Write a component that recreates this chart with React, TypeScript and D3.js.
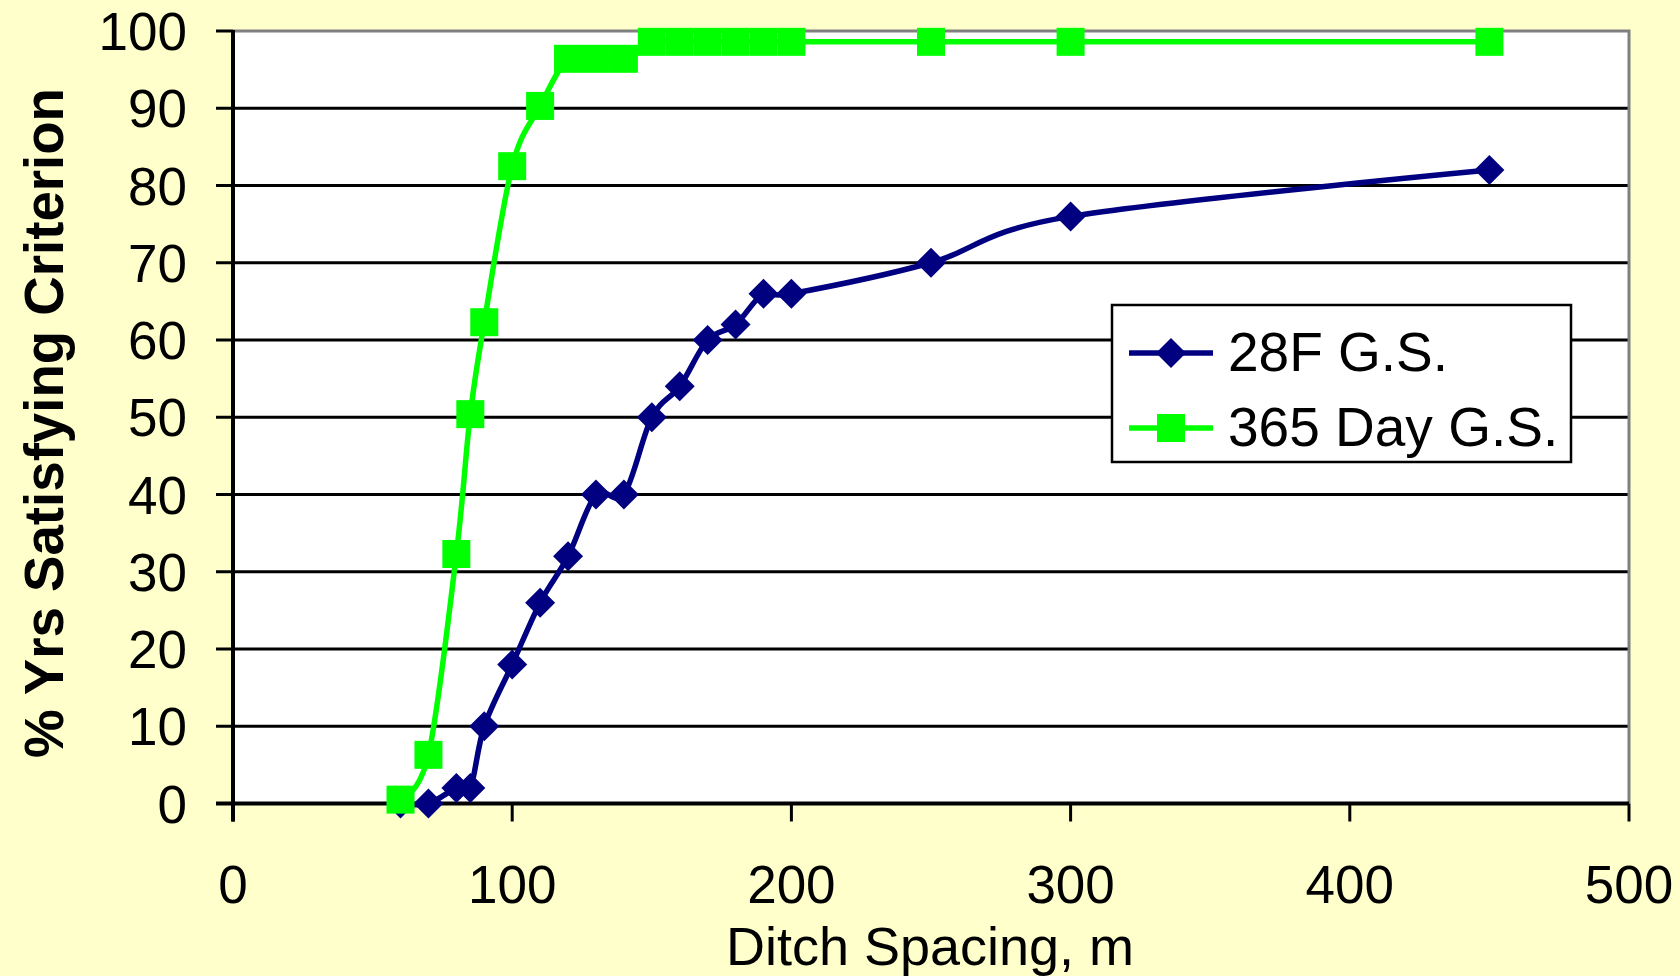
import * as d3 from "d3";
import { useEffect, useRef } from "react";

// ditch spacing (m) shared by both series
const spacing = [60, 70, 80, 85, 90, 100, 110, 120, 130, 140, 150, 160, 170, 180, 190, 200, 250, 300, 450];
// % of years satisfying criterion
const pct28F = [0, 0, 2, 2, 10, 18, 26, 32, 40, 40, 50, 54, 60, 62, 66, 66, 70, 76, 82];
const pct365 = [0.5, 6.3, 32.3, 50.4, 62.3, 82.5, 90.3, 96.4, 96.4, 96.4, 98.6, 98.6, 98.6, 98.6, 98.6, 98.6, 98.6, 98.6, 98.6];

const seriesNames = ["28F G.S.", "365 Day G.S."];
const xTicks = [0, 100, 200, 300, 400, 500];
const yTicks = [0, 10, 20, 30, 40, 50, 60, 70, 80, 90, 100];

export default function App() {
  const ref = useRef<SVGSVGElement | null>(null);
  const width = 1680;
  const height = 976;

  useEffect(() => {
    document.body.style.margin = "0";
    document.body.style.overflow = "hidden";

    const svg = d3.select(ref.current);
    svg.selectAll("*").remove();

    const font = "Liberation Sans, Arial, sans-serif";
    const left = 233, right = 1629, top = 31, bottom = 803.5;

    const x = d3.scaleLinear().domain([0, 500]).range([left, right]);
    const y = d3.scaleLinear().domain([0, 100]).range([bottom, top]);

    // background
    svg.append("rect").attr("width", width).attr("height", height).attr("fill", "#FFFFCC");
    svg.append("rect")
      .attr("x", left).attr("y", top)
      .attr("width", right - left).attr("height", bottom - top)
      .attr("fill", "#ffffff");

    // gridlines
    svg.append("g")
      .selectAll("line")
      .data(yTicks.filter((t) => t > 0 && t < 100))
      .join("line")
      .attr("x1", left).attr("x2", right)
      .attr("y1", (d) => y(d)).attr("y2", (d) => y(d))
      .attr("stroke", "#000").attr("stroke-width", 3);

    // plot border (top + right)
    svg.append("path")
      .attr("d", `M${left},${top}H${right}V${bottom}`)
      .attr("fill", "none").attr("stroke", "#808080").attr("stroke-width", 3);

    // y axis
    const yAxis = svg.append("g");
    yAxis.append("line")
      .attr("x1", left).attr("x2", left).attr("y1", top - 1).attr("y2", bottom + 18)
      .attr("stroke", "#000").attr("stroke-width", 4);
    yAxis.selectAll("line.tick")
      .data(yTicks)
      .join("line")
      .attr("class", "tick")
      .attr("x1", left - 17).attr("x2", left)
      .attr("y1", (d) => y(d)).attr("y2", (d) => y(d))
      .attr("stroke", "#000").attr("stroke-width", 3);
    yAxis.selectAll("text")
      .data(yTicks)
      .join("text")
      .attr("x", 187)
      .attr("y", (d) => y(d) + 19)
      .attr("text-anchor", "end")
      .style("font-family", font)
      .style("font-size", "53px")
      .text((d) => d);

    // x axis
    const xAxis = svg.append("g");
    xAxis.append("line")
      .attr("x1", left - 17).attr("x2", right).attr("y1", bottom).attr("y2", bottom)
      .attr("stroke", "#000").attr("stroke-width", 4);
    xAxis.selectAll("line.tick")
      .data(xTicks)
      .join("line")
      .attr("class", "tick")
      .attr("x1", (d) => x(d)).attr("x2", (d) => x(d))
      .attr("y1", bottom).attr("y2", bottom + 18)
      .attr("stroke", "#000").attr("stroke-width", 3);
    xAxis.selectAll("text")
      .data(xTicks)
      .join("text")
      .attr("x", (d) => x(d))
      .attr("y", 903)
      .attr("text-anchor", "middle")
      .style("font-family", font)
      .style("font-size", "53px")
      .text((d) => d);

    // axis titles
    svg.append("text")
      .attr("x", 930)
      .attr("y", 965)
      .attr("text-anchor", "middle")
      .style("font-family", font)
      .style("font-size", "54px")
      .text("Ditch Spacing, m");

    svg.append("text")
      .attr("transform", "translate(63,423) rotate(-90)")
      .attr("text-anchor", "middle")
      .attr("textLength", 670)
      .attr("lengthAdjust", "spacingAndGlyphs")
      .style("font-family", "Liberation Sans Narrow, Arial Narrow, Liberation Sans, sans-serif")
      .style("font-weight", "bold")
      .style("font-size", "56px")
      .text("% Yrs Satisfying Criterion");

    // series
    const line = d3.line<number>()
      .x((_, i) => x(spacing[i]))
      .y((d) => y(d))
      .curve(d3.curveCatmullRom.alpha(0));

    const diamond = (cx: number, cy: number, r: number) =>
      `M${cx},${cy - r}L${cx + r},${cy}L${cx},${cy + r}L${cx - r},${cy}Z`;

    const blue = "#000080";
    const green = "#00FF00";

    svg.append("path")
      .attr("d", line(pct28F))
      .attr("fill", "none").attr("stroke", blue).attr("stroke-width", 5.5)
      .attr("stroke-linejoin", "round");
    svg.append("g")
      .selectAll("path")
      .data(pct28F)
      .join("path")
      .attr("d", (d, i) => diamond(x(spacing[i]), y(d), 15))
      .attr("fill", blue);

    svg.append("path")
      .attr("d", line(pct365))
      .attr("fill", "none").attr("stroke", green).attr("stroke-width", 5.5)
      .attr("stroke-linejoin", "round");
    svg.append("g")
      .selectAll("rect")
      .data(pct365)
      .join("rect")
      .attr("x", (d, i) => x(spacing[i]) - 14)
      .attr("y", (d) => y(d) - 14)
      .attr("width", 28).attr("height", 28)
      .attr("fill", green);

    // legend
    const lg = svg.append("g");
    lg.append("rect")
      .attr("x", 1112).attr("y", 305)
      .attr("width", 459).attr("height", 157)
      .attr("fill", "#fff").attr("stroke", "#000").attr("stroke-width", 2.5);
    const rows = [353, 428];
    seriesNames.forEach((name, i) => {
      const cy = rows[i];
      const col = i === 0 ? blue : green;
      lg.append("line")
        .attr("x1", 1129).attr("x2", 1213).attr("y1", cy).attr("y2", cy)
        .attr("stroke", col).attr("stroke-width", 5.5);
      if (i === 0) {
        lg.append("path").attr("d", diamond(1171, cy, 15)).attr("fill", col);
      } else {
        lg.append("rect")
          .attr("x", 1171 - 14).attr("y", cy - 14)
          .attr("width", 28).attr("height", 28).attr("fill", col);
      }
      lg.append("text")
        .attr("x", 1228)
        .attr("y", cy + 18)
        .style("font-family", font)
        .style("font-size", "55px")
        .text(name);
    });
  }, []);

  return <svg ref={ref} width={width} height={height} style={{ display: "block" }} />;
}
